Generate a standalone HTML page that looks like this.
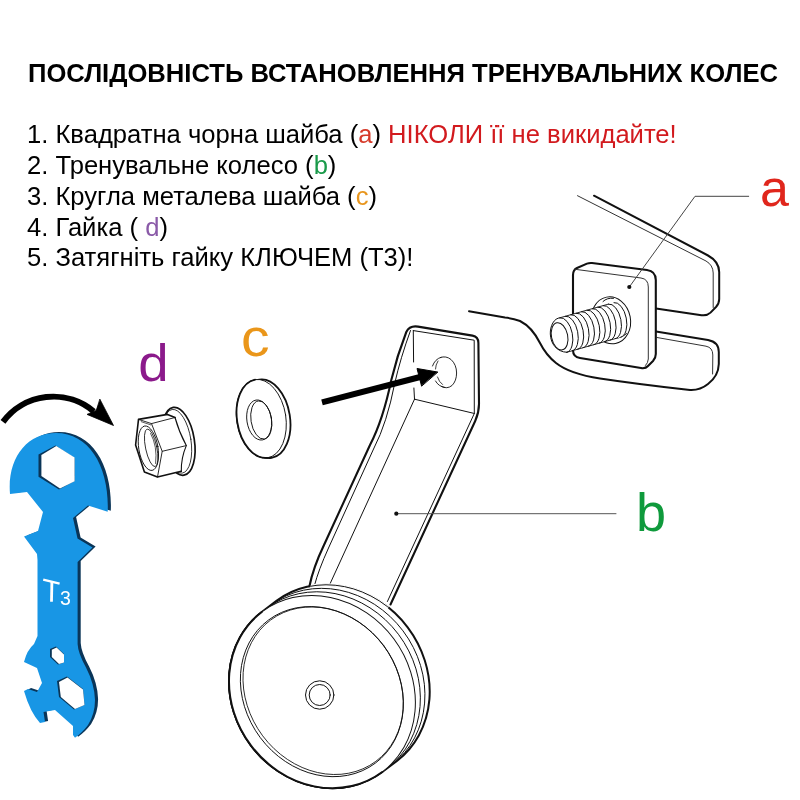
<!DOCTYPE html>
<html><head><meta charset="utf-8">
<style>
html,body{margin:0;padding:0;background:#fff;}
body{width:800px;height:800px;position:relative;overflow:hidden;font-family:"Liberation Sans",sans-serif;color:#000;}
.t{position:absolute;white-space:nowrap;line-height:1;will-change:transform;}
#title{left:27.5px;top:60.8px;font-size:25.6px;font-weight:bold;}
.li{left:26.9px;font-size:25.6px;}
.lab{font-size:56px;}
svg{position:absolute;left:0;top:0;}
</style></head><body>
<div class="t" id="title">ПОСЛІДОВНІСТЬ ВСТАНОВЛЕННЯ ТРЕНУВАЛЬНИХ КОЛЕС</div>
<div class="t li" id="l1" style="top:122.3px">1. Квадратна чорна шайба (<span style="color:#d63a2a">a</span>) <span style="color:#d21a1e">НІКОЛИ її не викидайте!</span></div>
<div class="t li" id="l2" style="top:153.1px">2. Тренувальне колесо (<span style="color:#1a9a4a">b</span>)</div>
<div class="t li" id="l3" style="top:183.8px">3. Кругла металева шайба (<span style="color:#e8961e">c</span>)</div>
<div class="t li" id="l4" style="top:214.6px">4. Гайка ( <span style="color:#8a5aa8">d</span>)</div>
<div class="t li" id="l5" style="top:245.3px">5. Затягніть гайку КЛЮЧЕМ (Т3)!</div>
<svg width="800" height="800" viewBox="0 0 800 800" fill="none" stroke-linecap="round" stroke-linejoin="round">
<!-- big labels -->
<g font-family="Liberation Sans, sans-serif" font-size="52" stroke="none">
<text id="La" x="760" y="205.7" fill="#e0261c">a</text>
<text id="Lb" transform="translate(636 530.6) scale(1.04 1.02)" fill="#0f9a3c">b</text>
<text id="Lc" transform="translate(241 355.9) scale(1.1 1)" fill="#ea961a">c</text>
<text id="Ld" transform="translate(138.3 380.9) scale(1.05 1)" fill="#8b1a8b">d</text>
</g>

<!-- FRAME / DROPOUT -->
<g id="frame" stroke="#111">
<path d="M577.5 195.7 L706 261 Q713 265 713.2 273 L713.2 307.5" stroke="#333" stroke-width="1"/>
<path d="M594 195.7 L708 255.5 Q719 261.5 719.2 272 L719.2 299 Q719.2 303.5 716 307 L710.5 312.6 Q707 316 701.5 315.2 L656 308.6" stroke-width="2"/>
<path d="M656 331.6 L708 340 Q718.8 342 718.8 352 L718.8 364 Q718.5 376 708 384 Q700 390.5 690 390 Q640 384.5 600 378.5 Q570 374 556 363 Q546 355 540 343 Q532 327 520 321 Q513 318.5 505 317.5 L469 311.2" stroke-width="2"/>
<path d="M657 337.5 L706 346.2 Q712.8 347.5 712.8 355 L712.6 374" stroke="#333" stroke-width="1"/>
</g>

<!-- SQUARE WASHER a -->
<g id="washer-a" stroke="#111">
<path d="M573 275 Q573 270 577 268 L587 263.6 Q589 262.8 592 263 L647 270 Q655.8 271.2 655.8 280 L655.8 354 Q655.8 358 653 361 L648 366 Q645.5 368.8 641 368 L580 358 Q573 357 573 350 Z" fill="#fff" stroke-width="2.1"/>
<path d="M575 269.3 L641 278 Q648.3 279 648.3 287 L648.3 359 Q648 363 645.5 365.5" stroke="#333" stroke-width="1"/>
</g>
<!-- bolt -->
<g id="bolt" stroke="#111" stroke-width="1">
<ellipse cx="611" cy="320.3" rx="19.5" ry="23.6" transform="rotate(-11 611 320.3)"/>
<path d="M603 301.5 Q607 297.5 613.5 298.3"/>
<path d="M615 338.5 Q622 338 626.5 333.5"/>
<path d="M560.00 317.75 L614.00 302.55 A9.0 17.6 -11.2 0 1 620.84 337.08 L566.84 352.28 C557 352 550.6 344 550.3 334 C550 326 554 318 560.00 317.75Z" fill="#fff" stroke="none"/>
<path d="M614.00 302.55 A9.0 17.6 -11.2 0 1 620.84 337.08"/>
<path d="M608.60 304.07 A9.0 17.6 -11.2 0 1 615.44 338.60"/>
<path d="M603.20 305.59 A9.0 17.6 -11.2 0 1 610.04 340.12"/>
<path d="M597.80 307.11 A9.0 17.6 -11.2 0 1 604.64 341.64"/>
<path d="M592.40 308.63 A9.0 17.6 -11.2 0 1 599.24 343.16"/>
<path d="M587.00 310.15 A9.0 17.6 -11.2 0 1 593.84 344.68"/>
<path d="M581.60 311.67 A9.0 17.6 -11.2 0 1 588.44 346.20"/>
<path d="M576.20 313.19 A9.0 17.6 -11.2 0 1 583.04 347.72"/>
<path d="M570.80 314.71 A9.0 17.6 -11.2 0 1 577.64 349.24"/>
<path d="M565.40 316.23 A9.0 17.6 -11.2 0 1 572.24 350.76"/>
<path d="M560.00 317.75 A9.0 17.6 -11.2 0 1 566.84 352.28"/>
<path d="M560.00 317.75 L608.60 304.07 M566.84 352.28 L615.44 338.60" stroke-width="0.9"/>
<path d="M560.00 317.75 C554 318 550 326 550.3 334 C550.6 344 557 352 566.84 352.28"/>
<ellipse cx="559.6" cy="336.3" rx="8.1" ry="13.8" transform="rotate(-11.5 559.6 336.3)"/>
</g>
<!-- leader a -->
<g stroke="#444" stroke-width="1">
<path d="M748.7 196.3 L695 196.3 L629.5 286.7" stroke-linejoin="miter"/>
</g>
<circle cx="629.3" cy="287" r="2.1" fill="#111"/>

<!-- BRACKET b -->
<g id="bracket" stroke="#111">
<path d="M390.5 604.5 L475.2 421 Q479 412.5 479 404 L478.4 343 Q478.4 336.6 472.5 335.6 L418 326.6 Q409.5 325.3 406.3 332 Q397 356 391.3 380 Q383 420 370 445 L324 545 Q313 568 309.4 586.5" stroke-width="2.1"/>
<path d="M387.4 601.5 L474.3 413.5 L474.2 340.2 L413.3 330.6" stroke-width="1"/>
<path d="M413.3 330.6 L413.6 362 M413.9 388 L414.5 399.2" stroke-width="1"/>
<path d="M414.5 399.2 L474.4 413.5" stroke-width="1"/>
<path d="M414.5 399.2 L329.5 585" stroke-width="1"/>
<path d="M410.5 330.5 Q400.5 358 394.8 383 Q387 423 374 448 L328.5 548 Q318.5 570 314.6 585" stroke-width="1"/>
<path d="M440.5 357.5 Q446 355.5 451 359.5 Q456.5 364.5 456.6 373 Q456.5 381 452 385.5 Q447 389.5 441.5 386.5" stroke-width="0.9"/>
<path d="M441 357.3 Q435 359 432.5 366 M435.5 381 Q438.5 386.5 444.5 387.3" stroke-width="0.9"/>
<path d="M438 361 Q435.5 365 435.5 369 M437.5 377 Q439 382 442.5 384.5" stroke-width="0.8"/>
</g>
<!-- leader b -->
<path d="M396.5 513.7 L616 513.7" stroke="#555" stroke-width="1"/>
<circle cx="396.3" cy="513.7" r="2.1" fill="#111"/>

<!-- arrow to hole -->
<path d="M322 402.3 L424 376" stroke="#000" stroke-width="6" stroke-linecap="butt"/>
<path d="M437.5 372 L417 368.5 L421.5 385.8 Z" fill="#000" stroke="#000" stroke-width="1"/>

<!-- WHEEL -->
<g id="wheel" stroke="#111">
<g transform="translate(322.0 692.0)">
<path d="M-45.55 -91.16 A89.4 100.2 -36.6 0 1 74.95 68.96 L60.25 80.06 A89.4 100.2 -36.6 0 1 -60.25 -80.06 Z" fill="#fff" stroke-width="2"/>
<clipPath id="brk"><path d="M8 -162 L-11.6 -105.5 L-16.5 -92 L62 -74 L67.5 -87.5 L98 -152 Z"/></clipPath>
<g clip-path="url(#brk)"><path d="M-45.55 -91.16 A89.4 100.2 -36.6 0 1 74.95 68.96" stroke="#fff" stroke-width="3"/><path d="M-45.55 -91.16 A89.4 100.2 -36.6 0 1 74.95 68.96" stroke-width="1"/></g>
<path d="M-50.25 -87.61 A89.4 100.2 -36.6 0 1 70.25 72.51" stroke-width="1"/>
<path d="M-54.81 -84.17 A89.4 100.2 -36.6 0 1 65.69 75.95" stroke-width="1"/>
<ellipse cx="0" cy="0" rx="89.4" ry="100.2" transform="rotate(-36.6)" fill="#fff" stroke-width="1"/>
<path d="M-60.25 -80.06 A89.4 100.2 -36.6 0 0 60.25 80.06" stroke-width="2"/>
<ellipse cx="-0.1" cy="-0.4" rx="76.9" ry="89.3" transform="rotate(-36.7 -0.1 -0.4)" stroke-width="0.9"/>
<ellipse cx="1.2" cy="-1.3" rx="75.5" ry="88.1" transform="rotate(-36.7 1.2 -1.3)" stroke-width="0.8"/>
<circle cx="-2.3" cy="3" r="14.2" stroke-width="1"/>
<circle cx="-2.3" cy="3" r="10.5" stroke-width="1"/>
</g>
</g>

<!-- WASHER c -->
<g id="washer-c" stroke="#111">
<ellipse cx="265.4" cy="418.7" rx="24.6" ry="39.6" transform="rotate(-9 265.4 418.7)" fill="#fff" stroke-width="1.8"/>
<ellipse cx="261.3" cy="418.7" rx="24.6" ry="39.6" transform="rotate(-9 261.3 418.7)" fill="#fff" stroke-width="0.9"/>
<path d="M255.11 379.59 A24.6 39.6 -9 0 0 267.49 457.81" stroke-width="1.8"/>
<ellipse cx="259.2" cy="420" rx="12.3" ry="20.2" transform="rotate(-9 259.2 420)" stroke-width="0.9"/>
<ellipse cx="261.3" cy="420" rx="10.3" ry="19.3" transform="rotate(-9 261.3 420)" stroke-width="0.9"/>
</g>

<!-- NUT d -->
<g id="nut" stroke="#111">
<ellipse cx="178.6" cy="441.3" rx="15.8" ry="34.3" transform="rotate(-9 178.6 441.3)" fill="#fff" stroke-width="1.7"/>
<ellipse cx="177.2" cy="441.3" rx="13.8" ry="32.2" transform="rotate(-9 177.2 441.3)" stroke-width="0.8"/>
<path d="M138.5 419.4 L167.5 414.4 L175 417.5 Q179 432 186.3 445.6 Q181 458 181.3 471.3 L157.5 477 L144.4 472 L135.6 445 Z" fill="#fff" stroke="none"/>
<path d="M175 417.5 L167.5 414.4 L138.5 419.4 L135.6 445 L144.4 472 L157.5 477 L181.3 471.3" stroke-width="1.6"/>
<path d="M175 417.5 Q179 432 186.3 445.6 Q181 458 181.3 471.3" stroke-width="1.1"/>
<path d="M138.5 419.4 L151.5 423.6 L175 417.5" stroke-width="0.9"/>
<path d="M151.5 423.6 L162.2 451.3 L186.3 445.6" stroke-width="0.9"/>
<path d="M162.2 451.3 L157.5 477" stroke-width="0.9"/>
<path d="M141.3 421.7 L150.8 424.9" stroke-width="0.7"/>
<ellipse cx="148.4" cy="448.2" rx="9.6" ry="22.5" transform="rotate(-9.5 148.4 448.2)" stroke-width="0.9"/>
<ellipse cx="151.2" cy="447.8" rx="5.6" ry="19.2" transform="rotate(-12 151.2 447.8)" stroke-width="0.8"/>
<path d="M150.6 433.5 Q157.6 446 155.6 463.5" stroke-width="0.7"/>
</g>

<!-- curved arrow -->
<g id="carrow">
<path d="M3 421.9 A62.7 62.7 0 0 1 93.8 411.5" stroke="#000" stroke-width="6" fill="none" stroke-linecap="butt"/>
<path d="M100 399.4 L113.5 425.5 L87 414.4 L96 410.5 Z" fill="#000" stroke="#000" stroke-width="0.8"/>
</g>

<!-- WRENCH -->
<g id="wrench" stroke="none">
<!-- dark extrusion -->
<path id="wdark" transform="translate(3.1 -1)" fill="#0a3558" d="M10 494 C7 458 27 433 56 433 C90 433 109.5 468 107.7 511.7 L88 505.5 L73 518 L77.5 538.5 L92.5 547.5 L77.6 562 L77.6 644 Q78 653 86 667.5 Q94.5 684 95 700 Q95 714 88 725 Q82 733 75 737.7 L73 735 L73 726 L55 710 L43.5 712 L45 722 L40 723 Q30 712 24 691 L28 689 L37 692 L42 683 L37 668 L24 662 Q27 650 34 644 L37.5 636 L37.5 560 L37 554 L24 536.4 L38 531 L43 512 L27 492 Z"/>
<path id="wmain" fill="#1896e5" d="M10 494 C7 458 27 433 56 433 C90 433 109.5 468 107.7 511.7 L88 505.5 L73 518 L77.5 538.5 L92.5 547.5 L77.6 562 L77.6 644 Q78 653 86 667.5 Q94.5 684 95 700 Q95 714 88 725 Q82 733 75 737.7 L73 735 L73 726 L55 710 L43.5 712 L45 722 L40 723 Q30 712 24 691 L28 689 L37 692 L42 683 L37 668 L24 662 Q27 650 34 644 L37.5 636 L37.5 560 L37 554 L24 536.4 L38 531 L43 512 L27 492 Z"/>
<!-- hex holes -->
<path fill="#0a3558" d="M55.5 445.4 L74.6 458 L74.6 481 L59 489.6 L38.5 476.8 L38.5 454.5 Z"/>
<path fill="#fff" d="M56.3 446 L74.6 457.5 L74.6 481.2 L60 488.6 L41.4 476 L41.4 455 Z"/>
<path fill="#0b3556" d="M50 649 L56 646.6 L64 654 L64 662.4 L58 664.4 L50 657 Z"/>
<path fill="#fff" d="M51.8 649.8 L56.6 647.4 L64 654.4 L64 662.4 L59 664 L51.8 657 Z"/>
<path fill="#0b3556" d="M57 681 L67 676.6 L83 689 L84.5 705 L74 709.6 L59 697 Z"/>
<path fill="#fff" d="M59 682 L67.5 677.6 L83 689.4 L84.5 705 L75 709 L60.8 697 Z"/>
<g fill="none" stroke="#fff" stroke-linecap="butt">
<path d="M43.2 579.6 L59.6 583.6" stroke-width="2.3"/><path d="M51.9 581.2 L51.5 601.8" stroke-width="2.8"/>
</g>
<text x="60" y="605" font-family="Liberation Sans, sans-serif" font-size="19.5" fill="#fff">3</text>
</g>
</svg>
</body></html>
